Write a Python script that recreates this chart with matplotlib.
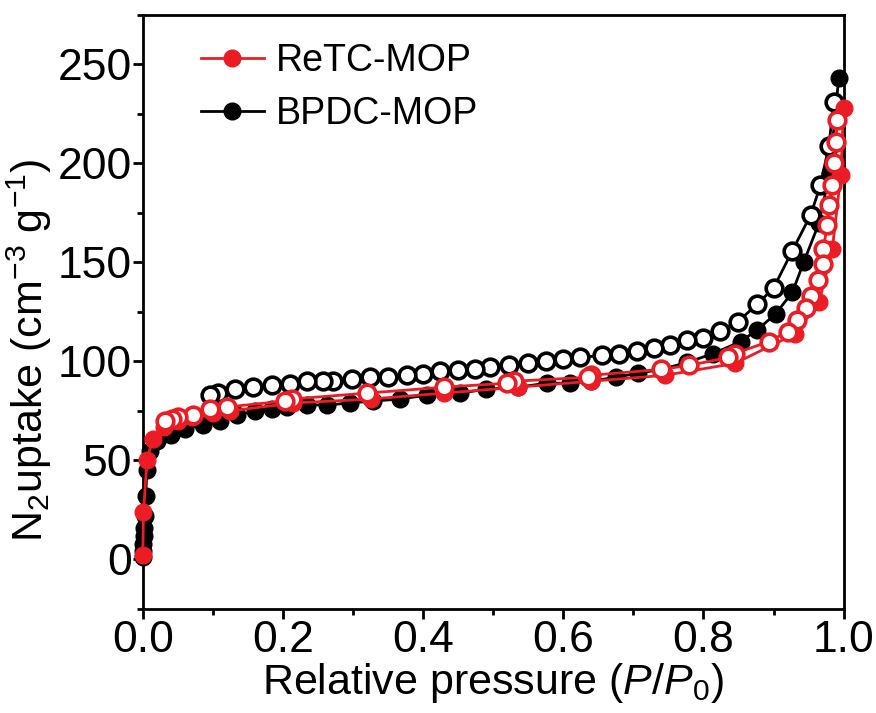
import matplotlib.pyplot as plt

plt.rcParams['font.family'] = ['Liberation Sans', 'DejaVu Sans']
plt.rcParams['mathtext.fontset'] = 'custom'
plt.rcParams['mathtext.rm'] = 'Liberation Sans'
plt.rcParams['mathtext.it'] = 'Liberation Sans:italic'

# BPDC-MOP adsorption (filled)
bpdc_ads_x = [0.0, 0.0005, 0.001, 0.0015, 0.002, 0.003, 0.004, 0.006, 0.01, 0.02, 0.04, 0.06,
              0.086, 0.11, 0.134, 0.16, 0.185, 0.206, 0.235, 0.263, 0.295, 0.329, 0.367, 0.406,
              0.453, 0.49, 0.535, 0.577, 0.61, 0.639, 0.675, 0.706, 0.74, 0.777, 0.814, 0.853,
              0.877, 0.903, 0.927, 0.943, 0.965, 0.98, 0.993]
bpdc_ads_y = [1, 4, 8, 12, 16, 22, 32, 45, 55, 60, 63, 66,
              68, 70, 73, 75, 76, 77, 78, 78, 79, 80, 81, 83,
              84, 86, 87, 89, 89, 90, 92, 94, 96, 99.5, 104, 110,
              116, 124, 135, 150, 170, 195, 243]

# BPDC-MOP desorption (open)
bpdc_des_x = [0.986, 0.979, 0.967, 0.953, 0.927, 0.9, 0.877, 0.849, 0.824, 0.8, 0.777, 0.753,
              0.729, 0.705, 0.68, 0.655, 0.624, 0.6, 0.575, 0.55, 0.522, 0.496, 0.474, 0.45,
              0.424, 0.4, 0.377, 0.35, 0.324, 0.299, 0.271, 0.257, 0.234, 0.21, 0.184, 0.157,
              0.131, 0.107, 0.096]
bpdc_des_y = [231, 209, 189, 174, 156, 137, 129, 120, 115.6, 112, 110.6, 108.5,
              107, 105.5, 104, 103, 102, 101, 100, 99, 98, 97, 96, 95.5,
              95, 93.5, 93, 92, 92, 91, 90, 90, 90, 88.6, 88, 87,
              86, 84, 83]

# ReTC-MOP adsorption (filled)
retc_ads_x = [0.0, 0.001, 0.006, 0.014, 0.03, 0.05, 0.07, 0.10, 0.125, 0.215, 0.325, 0.43,
              0.535, 0.64, 0.745, 0.845, 0.931, 0.965, 0.984, 0.996, 1.0]
retc_ads_y = [2, 24, 50, 61, 67, 70, 72, 74, 75, 79, 81, 84,
              87, 90, 93, 99, 114, 130, 157, 194, 228]

# ReTC-MOP desorption (open)
retc_des_x = [0.991, 0.989, 0.986, 0.984, 0.979, 0.977, 0.971, 0.97, 0.963, 0.953, 0.946, 0.934,
              0.92, 0.893, 0.845, 0.835, 0.78, 0.74, 0.64, 0.635, 0.53, 0.52, 0.43, 0.32,
              0.213, 0.203, 0.12, 0.096, 0.071, 0.05, 0.041, 0.031]
retc_des_y = [222, 211, 200, 189, 179, 169, 157, 149, 141, 133, 127, 121,
              115, 110, 104, 102, 98, 96, 93, 92, 90, 89, 87, 84,
              81, 80, 77, 76, 73, 72, 71, 70]

red = '#ec1c24'
ms = 12
mew = 2.6

fig = plt.figure(figsize=(8.76, 7.13), dpi=100)
ax = fig.add_axes([0.163, 0.146, 0.800, 0.833])

ax.plot(bpdc_ads_x, bpdc_ads_y, 'o-', color='black', lw=2, ms=ms, mew=1,
        clip_on=False, zorder=2, label='BPDC-MOP')
ax.plot(bpdc_des_x, bpdc_des_y, 'o-', color='black', lw=2, ms=ms, mew=mew,
        mfc='white', clip_on=False, zorder=3)
ax.plot(retc_ads_x, retc_ads_y, 'o-', color=red, lw=2, ms=ms, mew=1,
        clip_on=False, zorder=4, label='ReTC-MOP')
ax.plot(retc_des_x, retc_des_y, 'o-', color=red, lw=2, ms=ms, mew=mew,
        mfc='white', clip_on=False, zorder=5)

ax.set_xlim(0, 1.0)
ax.set_ylim(-25, 275)
ax.set_xticks([0.0, 0.2, 0.4, 0.6, 0.8, 1.0])
ax.set_xticks([0.1, 0.3, 0.5, 0.7, 0.9], minor=True)
ax.set_yticks([0, 50, 100, 150, 200, 250])
ax.set_yticks([-25, 25, 75, 125, 175, 225, 275], minor=True)
ax.set_xticklabels(['0.0', '0.2', '0.4', '0.6', '0.8', '1.0'])

for s in ax.spines.values():
    s.set_linewidth(2)
ax.tick_params(which='major', direction='out', length=7, width=2, labelsize=32, pad=1)
ax.tick_params(which='minor', direction='out', length=4, width=2)

ax.set_xlabel('Relative pressure ($P/P_0$)', fontsize=31, labelpad=0)
ax.set_ylabel('N$_2$uptake (cm$^{-3}$ g$^{-1}$)', fontsize=31)
ax.yaxis.set_label_coords(-0.127, 0.435)

handles, labels = ax.get_legend_handles_labels()
ax.legend(handles[::-1], labels[::-1], loc='upper left', bbox_to_anchor=(0.045, 0.997),
          frameon=False, fontsize=27, handlelength=1.7, handletextpad=0.3,
          labelspacing=0.45, borderpad=0.2)

plt.savefig('out.png', dpi=100)
